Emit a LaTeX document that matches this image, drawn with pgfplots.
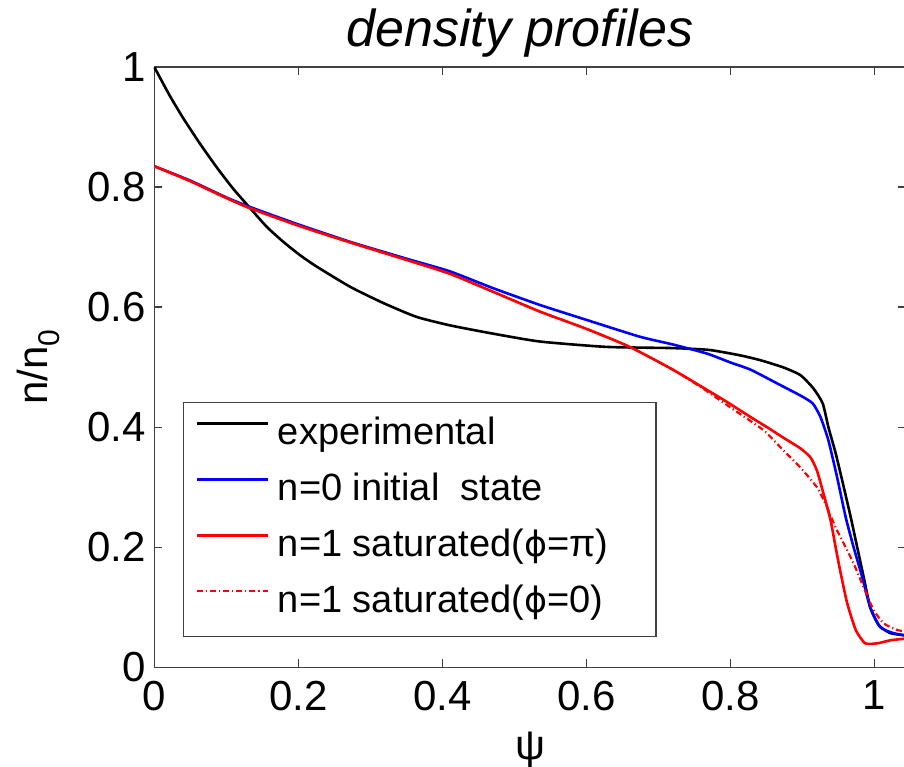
\documentclass[border=0pt]{standalone}
\usepackage{pgfplots}
\pgfplotsset{compat=1.18}
\usepackage{fontspec}
\setmainfont{Liberation Sans}
\newfontfamily\dejavu[Scale=0.92]{DejaVu Sans}
\newcommand{\vphi}{{\dejavu ϕ}}
\begin{document}
\begin{tikzpicture}
\begin{axis}[
  at={(0pt,0pt)}, anchor=south west,
  x=360pt, y=300pt,
  xmin=0, xmax=1.044, ymin=0, ymax=1,
  clip=false,
  axis line style={black!75, line width=0.8pt},
  tick style={black!75, line width=0.8pt},
  tick align=inside,
  major tick length=4pt,
  xtick={0,0.2,0.4,0.6,0.8,1},
  xticklabels={0,0.2,0.4,0.6,0.8,1},
  ytick={0,0.2,0.4,0.6,0.8,1},
  yticklabels={0,0.2,0.4,0.6,0.8,1},
  tick label style={font=\fontsize{21}{25}\selectfont},
  xticklabel style={inner sep=0pt, anchor=north, yshift=-6.5pt},
  yticklabel style={inner sep=0pt, anchor=east, xshift=-4.25pt},
  legend style={at={(axis cs:0.039,0.443)}, anchor=north west,
    draw=black!75, line width=0.8pt,
    font=\fontsize{19}{22}\selectfont,
    inner xsep=6pt, inner ysep=7pt,
    row sep=9pt,
    nodes={inner sep=0pt, text height=14pt, text depth=5pt},
    cells={anchor=west},
    /tikz/every odd column/.append style={column sep=4.5pt}},
  legend image code/.code={\draw[#1] (0pt,6pt) -- (35.5pt,6pt);},
  every axis plot/.append style={smooth, tension=0.35},
]
\addplot[black, line width=1.3pt] table {
0 1.0
0.003 0.993
0.022 0.951
0.040 0.915
0.063 0.873
0.086 0.834
0.109 0.798
0.133 0.765
0.156 0.734
0.179 0.709
0.202 0.687
0.225 0.668
0.272 0.634
0.318 0.607
0.364 0.584
0.410 0.570
0.466 0.557
0.535 0.543
0.628 0.534
0.720 0.532
0.770 0.529
0.813 0.520
0.841 0.512
0.873 0.500
0.897 0.487
0.915 0.465
0.928 0.440
0.936 0.400
0.946 0.357
0.955 0.312
0.967 0.250
0.976 0.200
0.985 0.150
0.994 0.100
1.006 0.070
1.022 0.057
1.044 0.053
};
\addlegendentry{\makebox[183pt][l]{experimental}}
\addplot[blue, line width=1.3pt] table {
0 0.835
0.05 0.811
0.1 0.783
0.133 0.767
0.2 0.738
0.272 0.709
0.35 0.681
0.41 0.660
0.47 0.632
0.535 0.604
0.6 0.579
0.674 0.551
0.72 0.538
0.767 0.523
0.8 0.508
0.828 0.496
0.865 0.473
0.897 0.453
0.914 0.440
0.925 0.417
0.936 0.378
0.948 0.317
0.960 0.250
0.971 0.200
0.983 0.150
0.994 0.100
1.008 0.067
1.026 0.057
1.044 0.053
};
\addlegendentry{n=0 initial\ \ state}
\addplot[red, line width=1.3pt] table {
0 0.835
0.05 0.810
0.1 0.782
0.133 0.765
0.2 0.736
0.272 0.708
0.35 0.679
0.41 0.656
0.47 0.626
0.535 0.593
0.6 0.564
0.66 0.534
0.72 0.496
0.79 0.446
0.828 0.417
0.851 0.400
0.873 0.383
0.897 0.365
0.911 0.350
0.920 0.328
0.929 0.290
0.939 0.245
0.946 0.200
0.953 0.157
0.962 0.107
0.974 0.062
0.987 0.040
1.004 0.040
1.022 0.045
1.044 0.048
};
\addlegendentry{n=1 saturated(\vphi=π)}
\addplot[red, line width=1.1pt, dash pattern=on 3pt off 1.5pt on 0.6pt off 1.5pt] table {
0 0.835
0.05 0.810
0.1 0.782
0.133 0.765
0.2 0.736
0.272 0.708
0.35 0.679
0.41 0.656
0.47 0.626
0.535 0.593
0.6 0.564
0.66 0.534
0.72 0.496
0.76 0.466
0.80 0.433
0.846 0.395
0.873 0.362
0.897 0.333
0.920 0.300
0.934 0.267
0.946 0.233
0.957 0.207
0.971 0.173
0.985 0.133
0.999 0.095
1.013 0.073
1.032 0.062
1.044 0.060
};
\addlegendentry{n=1 saturated(\vphi=0)}
\node[anchor=base, font=\fontsize{26}{30}\selectfont\itshape] at (axis cs:0.5076,1.034) {density profiles};
\node[anchor=base, font=\fontsize{21}{25}\selectfont] at (axis cs:0.5215,-0.154) {ψ};
\node[anchor=base, rotate=90, font=\fontsize{21}{25}\selectfont] at (axis cs:-0.149,0.5) {n/n\raisebox{-0.3em}{\fontsize{15}{15}\selectfont 0}};
\end{axis}
\pgfresetboundingbox
\useasboundingbox (-77.25pt,-49.35pt) rectangle (374.75pt,333.65pt);
\end{tikzpicture}
\end{document}
